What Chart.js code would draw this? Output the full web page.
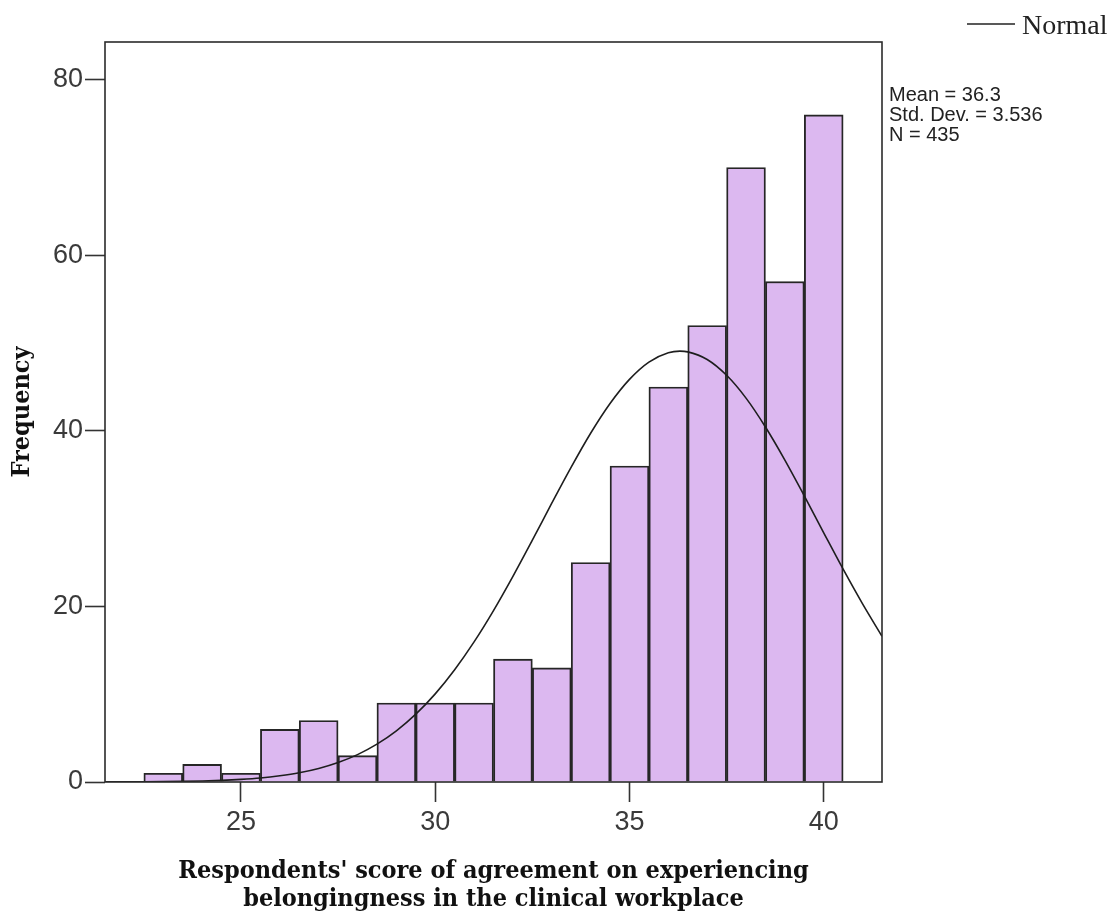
<!DOCTYPE html>
<html>
<head>
<meta charset="utf-8">
<script src="https://cdn.jsdelivr.net/npm/chart.js@4.4.1/dist/chart.umd.min.js"></script>
<style>
  html, body { margin: 0; padding: 0; background: #ffffff; }
  #wrap { width: 1113px; height: 915px; position: relative; }
</style>
</head>
<body>
<div id="wrap"><canvas id="c" width="1113" height="915"></canvas></div>
<script>
// Histogram bins (bin centres) and frequencies
const binCenters = [23, 24, 25, 26, 27, 28, 29, 30, 31, 32, 33, 34, 35, 36, 37, 38, 39, 40];
const frequencies = [1, 2, 1, 6, 7, 3, 9, 9, 9, 14, 13, 25, 36, 45, 52, 70, 57, 76];

// Normal curve
const curveX = [21.5, 22, 22.5, 23, 23.5, 24, 24.5, 25, 25.5, 26, 26.5, 27, 27.5, 28, 28.5, 29, 29.5, 30, 30.5, 31, 31.5, 32, 32.5, 33, 33.5, 34, 34.5, 35, 35.5, 36, 36.3, 36.5, 37, 37.5, 38, 38.5, 39, 39.5, 40, 40.5, 41, 41.5];
const curveY = [0.01, 0.01, 0.02, 0.04, 0.07, 0.12, 0.19, 0.30, 0.46, 0.71, 1.05, 1.54, 2.22, 3.12, 4.31, 5.83, 7.73, 10.04, 12.79, 15.96, 19.53, 23.43, 27.55, 31.76, 35.87, 39.73, 43.12, 45.87, 47.84, 48.90, 49.08, 49.00, 48.13, 46.33, 43.73, 40.44, 36.67, 32.59, 28.39, 24.24, 20.29, 16.60];

// Axis ticks
const xTicks = [25, 30, 35, 40];
const yTicks = [0, 20, 40, 60, 80];

// Labels
const xTitle = ["Respondents' score of agreement on experiencing", "belongingness in the clinical workplace"];
const yTitle = "Frequency";
const legendLabel = "Normal";
const statsLines = ["Mean = 36.3", "Std. Dev. = 3.536", "N = 435"];

const barData = binCenters.map((x, i) => ({ x: x, y: frequencies[i] }));
const lineData = curveX.map((x, i) => ({ x: x, y: curveY[i] }));

const TICK_FONT = { family: "'Liberation Sans Narrow', 'Liberation Sans', Arial, sans-serif", size: 27 };
const TITLE_FONT = { family: "'DejaVu Serif Condensed', 'DejaVu Serif', serif", size: 25, weight: 'bold', lineHeight: 1.12 };

const decor = {
  id: 'decor',
  afterDraw(chart) {
    const ctx = chart.ctx;
    const a = chart.chartArea;
    ctx.save();
    // frame
    ctx.strokeStyle = '#2b2b2b';
    ctx.lineWidth = 1.6;
    ctx.strokeRect(a.left, a.top, a.right - a.left, a.bottom - a.top);
    // legend
    ctx.beginPath();
    ctx.moveTo(967, 24);
    ctx.lineTo(1015, 24);
    ctx.strokeStyle = '#222';
    ctx.lineWidth = 1.5;
    ctx.stroke();
    ctx.fillStyle = '#222';
    ctx.font = "28px 'Liberation Serif', 'Times New Roman', serif";
    ctx.textBaseline = 'alphabetic';
    ctx.textAlign = 'left';
    ctx.fillText(legendLabel, 1022, 34);
    // stats
    ctx.font = "20px 'Liberation Sans', Arial, sans-serif";
    statsLines.forEach((t, i) => ctx.fillText(t, 889, 101 + i * 20));
    ctx.restore();
  }
};

new Chart(document.getElementById('c'), {
  data: {
    datasets: [
      {
        type: 'line',
        data: lineData,
        borderColor: '#1e1e1e',
        borderWidth: 1.6,
        pointRadius: 0,
        fill: false,
        cubicInterpolationMode: 'monotone',
        order: 0
      },
      {
        type: 'bar',
        data: barData,
        backgroundColor: '#dcb8f0',
        borderColor: '#262626',
        borderWidth: 1.9,
        barPercentage: 1.0,
        categoryPercentage: 1.0,
        order: 1
      }
    ]
  },
  options: {
    responsive: false,
    animation: false,
    events: [],
    layout: { padding: { left: 0, right: 231, top: 42, bottom: 0 } },
    plugins: { legend: { display: false }, tooltip: { enabled: false } },
    scales: {
      x: {
        type: 'linear',
        offset: false,
        min: 21.5,
        max: 41.5,
        afterBuildTicks: s => { s.ticks = xTicks.map(v => ({ value: v })); },
        afterFit: s => { s.height = 133; },
        grid: { offset: false, drawOnChartArea: false, drawTicks: true, tickLength: 20, tickColor: '#333', tickWidth: 1.6 },
        border: { display: false },
        ticks: { font: TICK_FONT, color: '#3a3a3a', padding: 4, maxRotation: 0, autoSkip: false },
        title: { display: true, text: xTitle, font: TITLE_FONT, color: '#111', padding: { top: 0, bottom: 2 } }
      },
      y: {
        type: 'linear',
        min: 0,
        max: 84.3,
        afterBuildTicks: s => { s.ticks = yTicks.map(v => ({ value: v })); },
        afterFit: s => { s.width = 105; },
        grid: { drawOnChartArea: false, drawTicks: true, tickLength: 20, tickColor: '#333', tickWidth: 1.6 },
        border: { display: false },
        ticks: { font: TICK_FONT, color: '#3a3a3a', padding: 2, autoSkip: false },
        title: { display: true, text: yTitle, font: TITLE_FONT, color: '#111', padding: { top: 8, bottom: 0 } }
      }
    }
  },
  plugins: [decor]
});
</script>
</body>
</html>
